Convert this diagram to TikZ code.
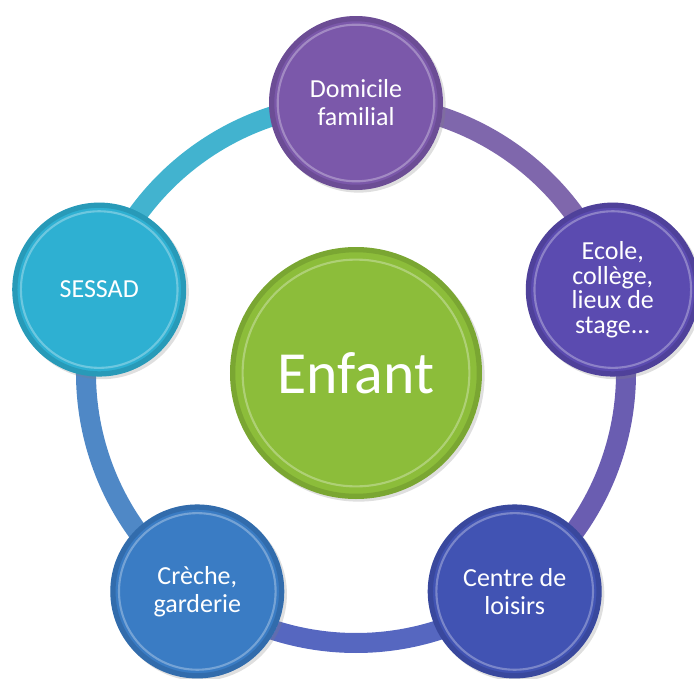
\documentclass[tikz,border=0pt]{standalone}
\usepackage{fontspec}
\setmainfont{Carlito}
\usetikzlibrary{positioning, calc, shadows, backgrounds}

\definecolor{enfcol}{HTML}{8CBD3A}
\definecolor{domcol}{HTML}{7B58AA}
\definecolor{ecocol}{HTML}{5B4BB0}
\definecolor{loicol}{HTML}{4153B3}
\definecolor{crecol}{HTML}{3A7CC4}
\definecolor{sescol}{HTML}{2EB0D2}
\definecolor{anneauA}{HTML}{7F67AC}
\definecolor{anneauB}{HTML}{6A5DB1}
\definecolor{anneauC}{HTML}{5667C0}
\definecolor{anneauD}{HTML}{4F88C6}
\definecolor{anneauE}{HTML}{42B3CF}

\begin{document}
\begin{tikzpicture}
    % Styles
    \tikzstyle{bulle} = [circle, minimum size=3.48cm, inner sep=0pt, align=center, text=white,
        font=\fontsize{14.8}{15.9}\selectfont,
        drop shadow={opacity=0.25, shadow xshift=1.5pt, shadow yshift=-1.5pt},
        path picture={
            \draw [black, opacity=0.12, line width=3pt] let \p1=(path picture bounding box.north east), \p2=(path picture bounding box.center), \n1={\x1-\x2} in (\p2) circle (\n1-1.5pt);
            \draw [white, opacity=0.3, line width=1.2pt] let \p1=(path picture bounding box.north east), \p2=(path picture bounding box.center), \n1={\x1-\x2} in (\p2) circle (0.9*\n1);
        }]
    \tikzstyle{anneau} = [line width=0.4cm]

    \useasboundingbox (-7.12,-6.10) rectangle (6.76,7.46);

    % Noeuds
    \node (enfant) [bulle, minimum size=5.04cm, fill=enfcol, font=\fontsize{34}{36}\selectfont] {Enfant};
    \node (dom) [bulle, fill=domcol] at (90:5.4) {Domicile\\familial};
    \node (ecole) [bulle, fill=ecocol, font=\fontsize{14.8}{13.9}\selectfont] at (18:5.4) {Ecole,\\collège,\\lieux de\\stage...};
    \node (loisirs) [bulle, fill=loicol] at (-54:5.4) {Centre de\\loisirs};
    \node (creche) [bulle, fill=crecol] at (-126:5.4) {Crèche,\\garderie};
    \node (sessad) [bulle, fill=sescol] at (162:5.4) {SESSAD};

    % Anneau
    \begin{scope}[on background layer]
        \draw [anneau, draw=anneauA] (dom.center) arc[start angle=90, end angle=18, radius=5.4];
        \draw [anneau, draw=anneauB] (ecole.center) arc[start angle=18, end angle=-54, radius=5.4];
        \draw [anneau, draw=anneauC] (loisirs.center) arc[start angle=-54, end angle=-126, radius=5.4];
        \draw [anneau, draw=anneauD] (creche.center) arc[start angle=-126, end angle=-198, radius=5.4];
        \draw [anneau, draw=anneauE] (sessad.center) arc[start angle=162, end angle=90, radius=5.4];
    \end{scope}

\end{tikzpicture}
\end{document}
